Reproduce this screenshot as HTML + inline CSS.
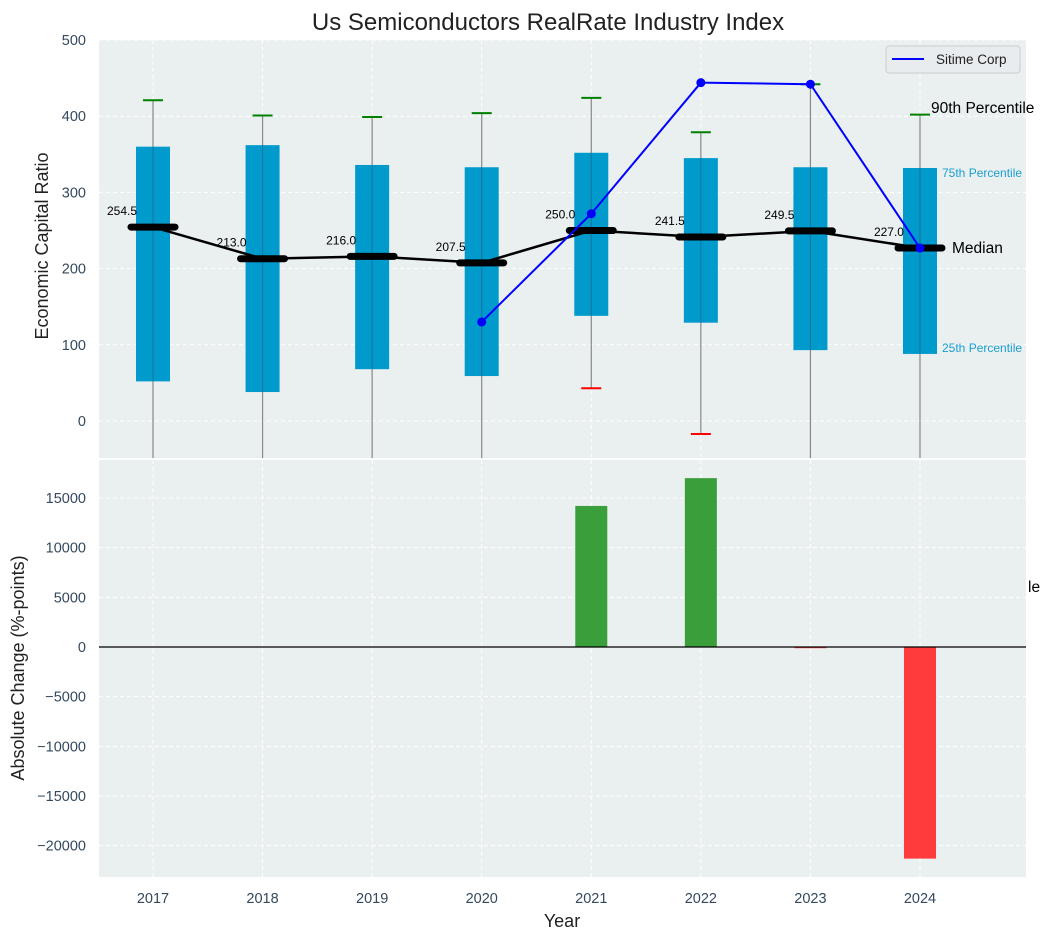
<!DOCTYPE html>
<html><head><meta charset="utf-8"><style>
body{margin:0;background:#fff;font-family:"Liberation Sans",sans-serif}
svg text{font-family:"Liberation Sans",sans-serif}
</style></head><body>
<svg id="c" width="1051" height="940" xmlns="http://www.w3.org/2000/svg"></svg>
<script>
const years=[2017,2018,2019,2020,2021,2022,2023,2024];
const q25=[52,38,68,59,138,129,93,88];
const q75=[360,362,336,333,352,345,333,332];
const p90=[421,401,399,404,424,379,442,402];
const p10=[-200,-200,-200,-200,43,-17,-200,-200];
const medians=[254.5,213.0,216.0,207.5,250.0,241.5,249.5,227.0];
const sitimeYears=[2020,2021,2022,2023,2024];
const sitimeVals=[130,272,444,442,227];
const changes=[0,0,0,0,14200,17000,-100,-21300];
const topTicks=[0,100,200,300,400,500];
const botTicks=[-20000,-15000,-10000,-5000,0,5000,10000,15000];

const NS="http://www.w3.org/2000/svg";
const svg=document.getElementById('c');
function el(t,a,txt,parent){const e=document.createElementNS(NS,t);for(const k in a)e.setAttribute(k,a[k]);if(txt!==undefined)e.textContent=txt;(parent||svg).appendChild(e);return e;}
const L=99,R=1026,T1=40,B1=458,T2=460,B2=877;
const xs=y=>153+(y-2017)*109.57;
const y1=v=>421-v*0.762;
const y2=v=>647-v*(149/15000);

let bg1=el('rect',{x:L,y:T1,width:R-L,height:B1-T1,fill:'#eaeff0'});


let bg2=el('rect',{x:L,y:T2,width:R-L,height:B2-T2,fill:'#eaeff0'});


el('defs',{}).innerHTML='<clipPath id="cp1"><rect x="99" y="40" width="927" height="418"/></clipPath><clipPath id="cp2"><rect x="99" y="460" width="952" height="417"/></clipPath>';
const g1=el('g',{'clip-path':'url(#cp1)'});
const g2=el('g',{'clip-path':'url(#cp2)'});

years.forEach(y=>{
 el('line',{x1:xs(y),x2:xs(y),y1:T1,y2:B1,stroke:'#fff','stroke-dasharray':'4,3','stroke-width':1},undefined,g1);
 el('line',{x1:xs(y),x2:xs(y),y1:T2,y2:B2,stroke:'#fff','stroke-dasharray':'4,3','stroke-width':1},undefined,g2);
 let t=el('text',{x:xs(y),y:903,'text-anchor':'middle','font-size':14.5,fill:'#34495e'},String(y));
 
 
});
topTicks.forEach(v=>{
 el('line',{x1:L,x2:R,y1:y1(v),y2:y1(v),stroke:'#fff','stroke-dasharray':'4,3'},undefined,g1);
 let t=el('text',{x:86,y:y1(v)+5,'text-anchor':'end','font-size':14.5,fill:'#34495e'},String(v));
 
 
});
botTicks.forEach(v=>{
 el('line',{x1:L,x2:R,y1:y2(v),y2:y2(v),stroke:'#fff','stroke-dasharray':'4,3'},undefined,g2);
 let t=el('text',{x:86,y:y2(v)+5,'text-anchor':'end','font-size':14.5,fill:'#34495e'},(v<0?'\u2212'+(-v):String(v)));
 
 
});

years.forEach((y,i)=>{
 const x=xs(y);
 let w=el('line',{x1:x,x2:x,y1:y1(p90[i]),y2:y1(p10[i]),stroke:'#888','stroke-width':1.2},undefined,g1);
 
 
 let b=el('rect',{x:x-17,y:y1(q75[i]),width:34,height:y1(q25[i])-y1(q75[i]),fill:'#009ACD'},undefined,g1);
 
 
 el('line',{x1:x,x2:x,y1:y1(q75[i]),y2:y1(q25[i]),stroke:'#2a5a70','stroke-width':1,opacity:0.6},undefined,g1);
 let c=el('line',{x1:x-10,x2:x+10,y1:y1(p90[i]),y2:y1(p90[i]),stroke:'green','stroke-width':2},undefined,g1);
 
 
 if(p10[i]>-50){let c2=el('line',{x1:x-10,x2:x+10,y1:y1(p10[i]),y2:y1(p10[i]),stroke:'red','stroke-width':2},undefined,g1);
 
 }
});
let mp=el('polyline',{points:years.map((y,i)=>xs(y)+','+y1(medians[i])).join(' '),fill:'none',stroke:'#000','stroke-width':2.5},undefined,g1);


years.forEach((y,i)=>{
 let m=el('line',{x1:xs(y)-22,x2:xs(y)+22,y1:y1(medians[i]),y2:y1(medians[i]),stroke:'#000','stroke-width':7,'stroke-linecap':'round'},undefined,g1);
 
 
 let t=el('text',{x:xs(y)-16,y:y1(medians[i])-12,'text-anchor':'end','font-size':12,fill:'#000'},medians[i].toFixed(1));
 
 
});
let sl=el('polyline',{points:sitimeYears.map((y,i)=>xs(y)+','+y1(sitimeVals[i])).join(' '),fill:'none',stroke:'#0000ff','stroke-width':2},undefined,g1);


sitimeYears.forEach((y,i)=>{
 let p=el('circle',{cx:xs(y),cy:y1(sitimeVals[i]),r:4.5,fill:'#0000ff'},undefined,g1);
 
 
});
const ann=[['90th Percentile',931,113,15.5,'#000'],['75th Percentile',942,177,12,'#1a9fd0'],['Median',952,253,15.5,'#000'],['25th Percentile',942,352,12,'#1a9fd0'],['le',1028,592,15.5,'#000']];
ann.forEach(a=>{let t=el('text',{x:a[1],y:a[2],'font-size':a[3],fill:a[4]},a[0]);
 
 });

years.forEach((y,i)=>{
 const v=changes[i]; if(v===0)return;
 const top=Math.min(y2(v),y2(0)),h=Math.max(Math.abs(y2(v)-y2(0)),1.2);
 let b=el('rect',{x:xs(y)-16,y:top,width:32,height:h,fill:v>0?'#3a9e3a':'#ff3b3b'},undefined,g2);
 
 
});
let zl=el('line',{x1:L,x2:R,y1:y2(0),y2:y2(0),stroke:'#000','stroke-width':1.2});



const lg=el('g',{});


el('rect',{x:886,y:46,width:134,height:27,rx:3,fill:'#e8ecef',stroke:'#ccc'},undefined,lg);
el('line',{x1:892,x2:924,y1:59,y2:59,stroke:'#0000ff','stroke-width':2},undefined,lg);
el('text',{x:936,y:64,'font-size':13.5,fill:'#222'},'Sitime Corp',lg);

let tt=el('text',{x:548,y:30,'text-anchor':'middle','font-size':24,fill:'#222'},'Us Semiconductors RealRate Industry Index');


let yt=el('text',{x:48,y:246,'text-anchor':'middle','font-size':18,fill:'#222',transform:'rotate(-90 48 246)'},'Economic Capital Ratio');


let yb=el('text',{x:24,y:668,'text-anchor':'middle','font-size':18,fill:'#222',transform:'rotate(-90 24 668)'},'Absolute Change (%-points)');


let xt=el('text',{x:562,y:927,'text-anchor':'middle','font-size':18,fill:'#222'},'Year');


</script>
</body></html>
